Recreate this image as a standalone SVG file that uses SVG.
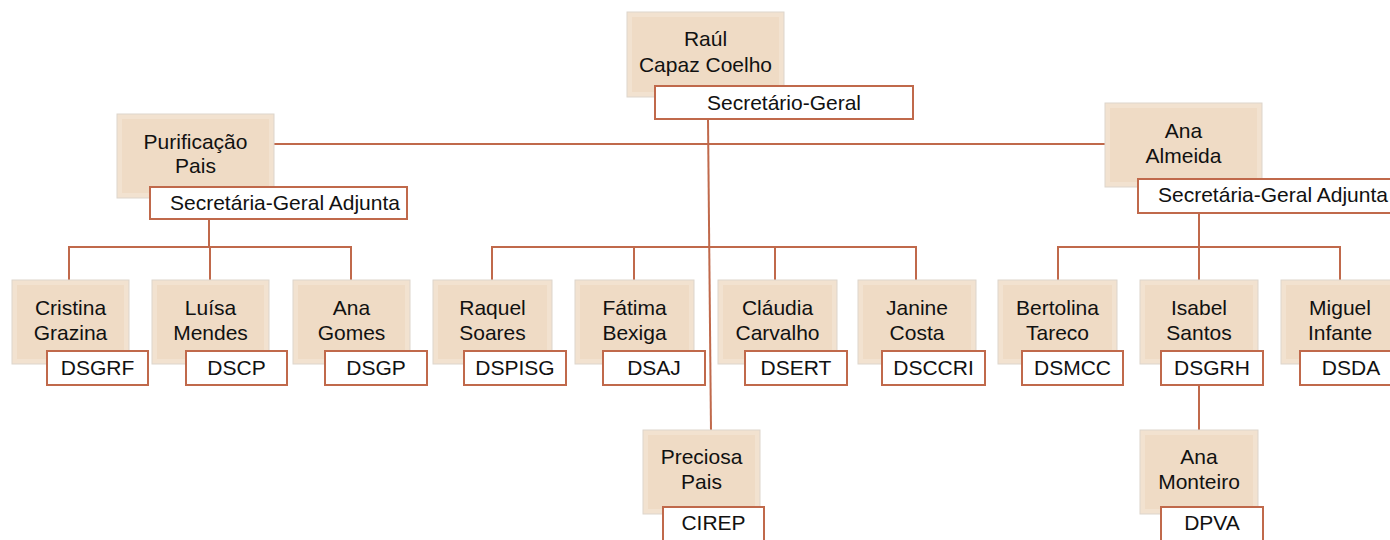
<svg xmlns="http://www.w3.org/2000/svg" width="1390" height="540" viewBox="0 0 1390 540">
<style>
.box{fill:#F2E2D0;stroke:#DDD5CC;stroke-width:1}
.inner{fill:#EFDBC5}
.lbl{fill:#FFFFFF;stroke:#C0694B;stroke-width:2}
.conn{stroke:#C0694B;stroke-width:2;fill:none}
text{font-family:"Liberation Sans",Arial,sans-serif;font-size:21px;fill:#111111;text-anchor:middle}
</style>
<rect width="1390" height="540" fill="#FFFFFF"/>
<g id="connectors">
<line class="conn" x1="274" y1="144" x2="1105" y2="144"/>
<line class="conn" x1="708" y1="119" x2="711" y2="430"/>
<polyline class="conn" points="209,219 209,247"/>
<polyline class="conn" points="69,280 69,247 351,247 351,280"/>
<line class="conn" x1="210" y1="247" x2="210" y2="280"/>
<polyline class="conn" points="492,280 492,247 916,247 916,280"/>
<line class="conn" x1="634" y1="247" x2="634" y2="280"/>
<line class="conn" x1="775" y1="247" x2="775" y2="280"/>
<line class="conn" x1="1199" y1="213" x2="1199" y2="430"/>
<polyline class="conn" points="1058,280 1058,247 1340,247 1340,280"/>
</g>
<g id="n-raul">
<rect class="box" x="627" y="12" width="157" height="85"/><rect class="inner" x="632" y="17" width="147" height="75"/>
<text x="705.5" y="46">Raúl</text><text x="705.5" y="72">Capaz Coelho</text>
<rect class="lbl" x="655" y="86" width="258" height="33"/><text x="784" y="110">Secretário-Geral</text>
</g>
<g id="n-purificacao">
<rect class="box" x="117" y="114" width="157" height="84"/><rect class="inner" x="122" y="119" width="147" height="74"/>
<text x="195.5" y="149">Purificação</text><text x="195.5" y="173">Pais</text>
<rect class="lbl" x="150" y="187" width="257" height="32"/><text x="285" y="210">Secretária-Geral Adjunta</text>
</g>
<g id="n-almeida">
<rect class="box" x="1105" y="103" width="157" height="84"/><rect class="inner" x="1110" y="108" width="147" height="74"/>
<text x="1183.5" y="138">Ana</text><text x="1183.5" y="163">Almeida</text>
<rect class="lbl" x="1138" y="179" width="257" height="34"/><text x="1273" y="202">Secretária-Geral Adjunta</text>
</g>
<g id="n-cristina">
<rect class="box" x="12" y="280" width="117" height="84"/><rect class="inner" x="17" y="285" width="107" height="74"/>
<text x="70.5" y="315">Cristina</text><text x="70.5" y="340">Grazina</text>
<rect class="lbl" x="47" y="351" width="101" height="34"/><text x="97.5" y="375">DSGRF</text>
</g>
<g id="n-luisa">
<rect class="box" x="152" y="280" width="117" height="84"/><rect class="inner" x="157" y="285" width="107" height="74"/>
<text x="210.5" y="315">Luísa</text><text x="210.5" y="340">Mendes</text>
<rect class="lbl" x="186" y="351" width="101" height="34"/><text x="236.5" y="375">DSCP</text>
</g>
<g id="n-anagomes">
<rect class="box" x="293" y="280" width="117" height="84"/><rect class="inner" x="298" y="285" width="107" height="74"/>
<text x="351.5" y="315">Ana</text><text x="351.5" y="340">Gomes</text>
<rect class="lbl" x="325" y="351" width="102" height="34"/><text x="376" y="375">DSGP</text>
</g>
<g id="n-raquel">
<rect class="box" x="433" y="280" width="119" height="84"/><rect class="inner" x="438" y="285" width="109" height="74"/>
<text x="492.5" y="315">Raquel</text><text x="492.5" y="340">Soares</text>
<rect class="lbl" x="464" y="351" width="102" height="34"/><text x="515" y="375">DSPISG</text>
</g>
<g id="n-fatima">
<rect class="box" x="575" y="280" width="119" height="84"/><rect class="inner" x="580" y="285" width="109" height="74"/>
<text x="634.5" y="315">Fátima</text><text x="634.5" y="340">Bexiga</text>
<rect class="lbl" x="603" y="351" width="102" height="34"/><text x="654" y="375">DSAJ</text>
</g>
<g id="n-claudia">
<rect class="box" x="718" y="280" width="119" height="84"/><rect class="inner" x="723" y="285" width="109" height="74"/>
<text x="777.5" y="315">Cláudia</text><text x="777.5" y="340">Carvalho</text>
<rect class="lbl" x="745" y="351" width="102" height="34"/><text x="796" y="375">DSERT</text>
</g>
<g id="n-janine">
<rect class="box" x="858" y="280" width="118" height="84"/><rect class="inner" x="863" y="285" width="108" height="74"/>
<text x="917" y="315">Janine</text><text x="917" y="340">Costa</text>
<rect class="lbl" x="882" y="351" width="103" height="34"/><text x="933.5" y="375">DSCCRI</text>
</g>
<g id="n-bertolina">
<rect class="box" x="998" y="280" width="119" height="84"/><rect class="inner" x="1003" y="285" width="109" height="74"/>
<text x="1057.5" y="315">Bertolina</text><text x="1057.5" y="340">Tareco</text>
<rect class="lbl" x="1022" y="351" width="101" height="34"/><text x="1072.5" y="375">DSMCC</text>
</g>
<g id="n-isabel">
<rect class="box" x="1140" y="280" width="118" height="84"/><rect class="inner" x="1145" y="285" width="108" height="74"/>
<text x="1199" y="315">Isabel</text><text x="1199" y="340">Santos</text>
<rect class="lbl" x="1161" y="351" width="102" height="34"/><text x="1212" y="375">DSGRH</text>
</g>
<g id="n-miguel">
<rect class="box" x="1281" y="280" width="118" height="84"/><rect class="inner" x="1286" y="285" width="108" height="74"/>
<text x="1340" y="315">Miguel</text><text x="1340" y="340">Infante</text>
<rect class="lbl" x="1300" y="351" width="102" height="34"/><text x="1351" y="375">DSDA</text>
</g>
<g id="n-preciosa">
<rect class="box" x="643" y="430" width="117" height="84"/><rect class="inner" x="648" y="435" width="107" height="74"/>
<text x="701.5" y="464">Preciosa</text><text x="701.5" y="489">Pais</text>
<rect class="lbl" x="663" y="507" width="101" height="34"/><text x="713.5" y="530">CIREP</text>
</g>
<g id="n-anamonteiro">
<rect class="box" x="1140" y="430" width="118" height="84"/><rect class="inner" x="1145" y="435" width="108" height="74"/>
<text x="1199" y="464">Ana</text><text x="1199" y="489">Monteiro</text>
<rect class="lbl" x="1161" y="507" width="102" height="34"/><text x="1212" y="530">DPVA</text>
</g>
</svg>
